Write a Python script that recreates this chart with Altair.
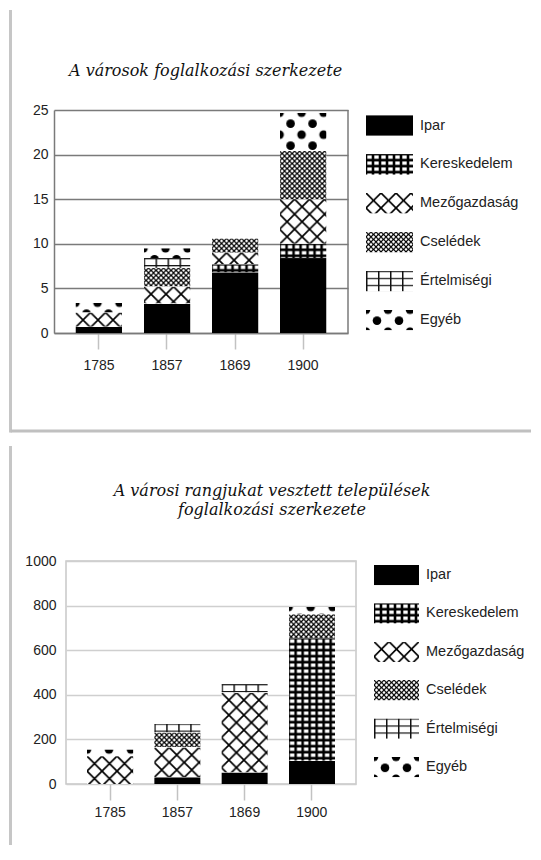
import altair as alt
import pandas as pd
from urllib.parse import quote

years = ["1785", "1857", "1869", "1900"]
categories = ["Ipar", "Kereskedelem", "Mezőgazdaság", "Cselédek", "Értelmiségi", "Egyéb"]

# A városok foglalkozási szerkezete (values per year)
varos_ipar = [0.7, 3.3, 6.8, 8.4]
varos_kereskedelem = [0.0, 0.0, 0.9, 1.6]
varos_mezogazdasag = [1.6, 1.9, 1.3, 5.0]
varos_cseledek = [0.0, 2.1, 1.6, 5.4]
varos_ertelmiseg = [0.0, 1.1, 0.0, 0.0]
varos_egyeb = [1.1, 1.1, 0.0, 4.3]
varos_ticks = [0, 5, 10, 15, 20, 25]

# A városi rangjukat vesztett települések foglalkozási szerkezete
vesztett_ipar = [0, 30, 52, 104]
vesztett_kereskedelem = [0, 0, 0, 550]
vesztett_mezogazdasag = [125, 134, 358, 0]
vesztett_cseledek = [0, 67, 0, 107]
vesztett_ertelmiseg = [0, 40, 38, 0]
vesztett_egyeb = [30, 0, 0, 33]
vesztett_ticks = [0, 200, 400, 600, 800, 1000]

title_top = ["A városok foglalkozási szerkezete"]
title_bottom = ["A városi rangjukat vesztett települések", "foglalkozási szerkezete"]


# ---- fill patterns (style) ----
def pattern_uri(w, h, body):
    svg = ("<svg xmlns='http://www.w3.org/2000/svg'>"
           f"<defs><pattern id='p' width='{w}' height='{h}' patternUnits='userSpaceOnUse'>{body}</pattern></defs>"
           "<rect width='100%' height='100%' fill='url(#p)'/></svg>")
    return "data:image/svg+xml," + quote(svg)


PATTERNS = {
    "Ipar": pattern_uri(4, 4, "<rect width='4' height='4' fill='#000'/>"),
    "Kereskedelem": pattern_uri(7, 6, "<rect width='7' height='6' fill='#000'/>"
                                      "<rect x='1.3' y='1.3' width='4.4' height='3.4' fill='#fff'/>"),
    "Mezőgazdaság": pattern_uri(15, 15, "<rect width='15' height='15' fill='#fff'/>"
                                        "<path d='M-1,-1L16,16M16,-1L-1,16' stroke='#000' stroke-width='1.7'/>"),
    "Cselédek": pattern_uri(5, 5, "<rect width='5' height='5' fill='#fff'/>"
                                  "<path d='M-1,-1L6,6M6,-1L-1,6' stroke='#000' stroke-width='1.2'/>"),
    "Értelmiségi": pattern_uri(12, 7, "<rect width='12' height='7' fill='#fff'/>"
                                      "<rect width='1.5' height='7' fill='#111'/>"
                                      "<rect width='12' height='1.2' fill='#111'/>"),
    "Egyéb": pattern_uri(22, 22, "<rect width='22' height='22' fill='#fff'/>"
                                 "<circle cx='0' cy='0' r='4.3'/><circle cx='22' cy='0' r='4.3'/>"
                                 "<circle cx='0' cy='22' r='4.3'/><circle cx='22' cy='22' r='4.3'/>"
                                 "<circle cx='11' cy='11' r='4.3'/>"),
}


def build_df(series):
    rows = []
    for order, (cat, vals) in enumerate(zip(categories, series)):
        for year, v in zip(years, vals):
            rows.append({"year": year, "cat": cat, "value": v, "order": order, "url": PATTERNS[cat]})
    return pd.DataFrame(rows)


legend_df = pd.DataFrame({"cat": categories, "url": [PATTERNS[c] for c in categories]})
one = pd.DataFrame({"k": [0]})

SANS = "Liberation Sans"
H = 223


def make_panel(df, ymax, yticks, width, xrange, po, frame_color, grid_color, ylabel_pad, yaxis_offset,
               xtick_size, xlabel_pad, title_lines, title_x, title_y, title_align,
               legend_range, sw_x0, sw_x1, label_x, vline_x, vline_y1, vline_y2,
               hline=None, own_frame=False):
    xscale = alt.Scale(type="band", paddingInner=0.31, paddingOuter=po)
    if xrange is not None:
        xscale = alt.Scale(type="band", range=xrange, paddingInner=0.31, paddingOuter=po)
    bars = alt.Chart(df).transform_filter("datum.value > 0").transform_stack(
        stack="value", groupby=["year"], as_=["y0", "y1"],
        sort=[alt.SortField(field="order", order="ascending")]
    ).mark_image(aspect=False).encode(
        x=alt.X("year:N", sort=years, title=None, scale=xscale,
                axis=alt.Axis(domain=own_frame, domainColor=frame_color, domainWidth=1.5,
                              ticks=True, tickColor="#c2c2c2", tickSize=xtick_size,
                              tickWidth=1.5, labelPadding=xlabel_pad, labelAngle=0, grid=False,
                              labelFont=SANS, labelFontSize=14, labelColor="#222")),
        y=alt.Y("y0:Q", title=None, scale=alt.Scale(domain=[0, ymax], nice=False, zero=True),
                axis=alt.Axis(values=yticks, format="d", grid=True, gridColor=grid_color, gridWidth=1.5,
                              domain=own_frame, domainColor=frame_color, domainWidth=1.5,
                              offset=yaxis_offset, ticks=False, labelPadding=ylabel_pad,
                              labelFont=SANS, labelFontSize=14, labelColor="#222")),
        y2="y1:Q",
        url="url:N",
    )
    lscale = alt.Scale(type="band", domain=categories, range=legend_range,
                       paddingInner=0.47, paddingOuter=0.235)
    swatches = alt.Chart(legend_df).mark_image(aspect=False).encode(
        y=alt.Y("cat:N", scale=lscale, axis=None),
        x=alt.value(sw_x0), x2=alt.value(sw_x1),
        url="url:N",
    )
    labels = alt.Chart(legend_df).mark_text(
        align="left", baseline="middle", font=SANS, fontSize=14.5, color="#222"
    ).encode(
        y=alt.Y("cat:N", scale=lscale, axis=None),
        x=alt.value(label_x),
        text="cat:N",
    )
    title = alt.Chart(pd.DataFrame({"t": ["\n".join(title_lines)]})).mark_text(
        font="DejaVu Serif", fontStyle="italic", fontSize=16, align=title_align,
        baseline="middle", lineBreak="\n", lineHeight=19, color="#111"
    ).encode(x=alt.value(title_x), y=alt.value(title_y), text="t:N")
    layers = [
        alt.Chart(one).mark_rule(color="#c6c6c6", strokeWidth=3).encode(
            x=alt.value(vline_x), y=alt.value(vline_y1), y2=alt.value(vline_y2)),
    ]
    if hline is not None:
        layers.append(alt.Chart(one).mark_rule(color="#c0c0c0", strokeWidth=3).encode(
            x=alt.value(hline[0]), x2=alt.value(hline[1]), y=alt.value(hline[2])))
    if own_frame:
        # right edge of the plot frame
        layers.append(alt.Chart(one).mark_rule(color=frame_color, strokeWidth=1.5).encode(
            x=alt.value(width), y=alt.value(0), y2=alt.value(H)))
    layers += [bars, swatches, labels, title]
    view = alt.ViewBackground(stroke="transparent") if own_frame else \
        alt.ViewBackground(stroke=frame_color, strokeWidth=1.5)
    return alt.layer(*layers).resolve_scale(y="independent").properties(
        width=width, height=H, view=view,
    )


df_top = build_df([varos_ipar, varos_kereskedelem, varos_mezogazdasag,
                   varos_cseledek, varos_ertelmiseg, varos_egyeb])
df_bot = build_df([vesztett_ipar, vesztett_kereskedelem, vesztett_mezogazdasag,
                   vesztett_cseledek, vesztett_ertelmiseg, vesztett_egyeb])

# both panels share the same view origin (x = 65 on the page); the upper plot
# frame starts 12px further left, so its x range and y axis are shifted
top = make_panel(df_top, 25, varos_ticks, 282, [-12, 282], 0.316, "#7a7a7a", "#7a7a7a", 6, 12,
                 16, 9, title_top, 3, -39, "left",
                 [-3.95, 229.45], 300, 347, 354,
                 -55.5, -100, 322.5, hline=(-55.5, 465, 321), own_frame=True)
bottom = make_panel(df_bot, 1000, vesztett_ticks, 290, None, 0.3125, "#c8c8c8", "#cfcfcf", 10, 0,
                    16, 5, title_bottom, 206, -70, "center",
                    [-5.2, 225.2], 308, 353, 360,
                    -55.5, -115, 284)

chart = alt.vconcat(top, bottom, spacing=8).properties(
    padding=0
).configure(background="white")

chart.save("out.html", embed_options={"renderer": "svg", "actions": False})
